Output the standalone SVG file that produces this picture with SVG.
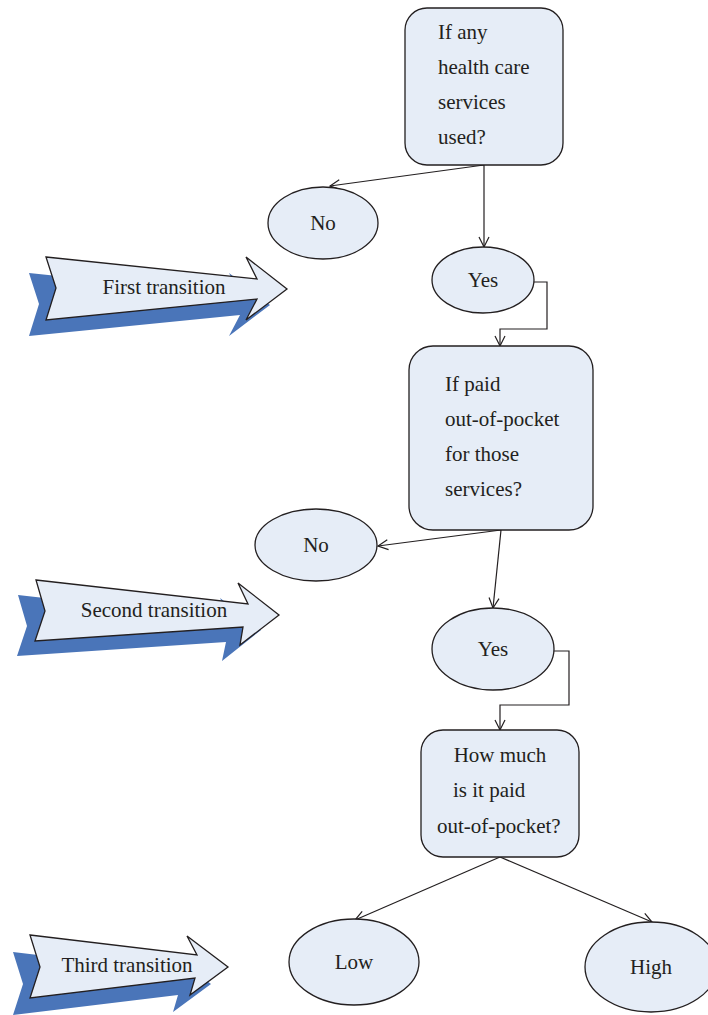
<svg xmlns="http://www.w3.org/2000/svg" width="708" height="1015" viewBox="0 0 708 1015">
<style>
.n{fill:#E6EDF7;stroke:#231F20;stroke-width:1.3}
.sh{fill:#4A75B9}
.t{font-family:"Liberation Serif","Times New Roman",serif;font-size:21px;fill:#231F20}
.c{fill:none;stroke:#231F20;stroke-width:1.2}
</style>
<defs>
<marker id="a" markerWidth="14" markerHeight="14" refX="11" refY="6" orient="auto" markerUnits="userSpaceOnUse">
<polyline points="1,1 11,6 1,11" fill="none" stroke="#231F20" stroke-width="1.2"/>
</marker>
</defs>
<g id="connectors">
<path class="c" d="M484,165 L330,186" marker-end="url(#a)"/>
<path class="c" d="M484,165 L484,247" marker-end="url(#a)"/>
<path class="c" d="M533,282 H547 V329 H500 V346" marker-end="url(#a)"/>
<path class="c" d="M501,530 L378,546" marker-end="url(#a)"/>
<path class="c" d="M501,530 L493,608" marker-end="url(#a)"/>
<path class="c" d="M554,651 H569 V705 H500 V730" marker-end="url(#a)"/>
<path class="c" d="M500,857 L355,920" marker-end="url(#a)"/>
<path class="c" d="M500,857 L652,922" marker-end="url(#a)"/>
</g>
<g id="q1">
<rect class="n" x="405" y="8" width="158" height="157" rx="22"/>
<text class="t" x="438" y="39">If any</text>
<text class="t" x="438" y="74">health care</text>
<text class="t" x="438" y="109">services</text>
<text class="t" x="438" y="144">used?</text>
</g>
<g id="no1"><ellipse class="n" cx="323" cy="223" rx="55" ry="36"/><text class="t" x="323" y="230" text-anchor="middle">No</text></g>
<g id="yes1"><ellipse class="n" cx="483" cy="280" rx="51" ry="33"/><text class="t" x="483" y="287" text-anchor="middle">Yes</text></g>
<g id="q2">
<rect class="n" x="409" y="346" width="184" height="184" rx="24"/>
<text class="t" x="445" y="391">If paid</text>
<text class="t" x="445" y="426">out-of-pocket</text>
<text class="t" x="445" y="461">for those</text>
<text class="t" x="445" y="496">services?</text>
</g>
<g id="no2"><ellipse class="n" cx="316" cy="545" rx="61" ry="36"/><text class="t" x="316" y="552" text-anchor="middle">No</text></g>
<g id="yes2"><ellipse class="n" cx="493" cy="649" rx="61" ry="41"/><text class="t" x="493" y="656" text-anchor="middle">Yes</text></g>
<g id="q3">
<rect class="n" x="421" y="730" width="158" height="127" rx="22"/>
<text class="t" x="500" y="762" text-anchor="middle">How much</text>
<text class="t" x="453" y="797">is it paid</text>
<text class="t" x="437" y="833">out-of-pocket?</text>
</g>
<g id="low"><ellipse class="n" cx="354" cy="962" rx="65" ry="43"/><text class="t" x="354" y="969" text-anchor="middle">Low</text></g>
<g id="high"><ellipse class="n" cx="651" cy="967" rx="66" ry="45"/><text class="t" x="651" y="974" text-anchor="middle">High</text></g>
<g id="t1">
<polygon class="sh" points="29,273 240,295 229,273 270,305 229,336 240,315 29,336 39,304"/>
<polygon class="n" points="46,257 257,279 246,257 287,289 246,320 257,299 46,320 56,288"/>
<text class="t" x="164" y="294" text-anchor="middle">First transition</text>
</g>
<g id="t2">
<polygon class="sh" points="18,595 230,619 220,598 261,630 222,661 226,642 17,656 27,626"/>
<polygon class="n" points="36,580 248,604 238,583 279,615 240,645 243,627 35,641 45,611"/>
<text class="t" x="154" y="617" text-anchor="middle">Second transition</text>
</g>
<g id="t3">
<polygon class="sh" points="13,952 180,972 170,953 211,984 173,1012 178,995 13,1015 23,984"/>
<polygon class="n" points="30,935 197,955 187,936 228,967 190,995 195,978 30,998 40,967"/>
<text class="t" x="127" y="972" text-anchor="middle">Third transition</text>
</g>
</svg>
